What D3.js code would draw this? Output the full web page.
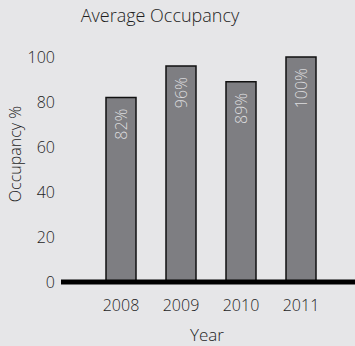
<!DOCTYPE html>
<html>
<head>
<meta charset="utf-8">
<script src="https://cdn.jsdelivr.net/npm/d3@7"></script>
<style>
  html, body { margin: 0; padding: 0; background: #e6e6e8; }
  svg { display: block; font-family: "Open Sans", sans-serif; }
</style>
</head>
<body>
<div id="chart"></div>
<script>
// chart data
var years = ["2008", "2009", "2010", "2011"];
var occupancy = [82, 96, 89, 100];
var yTicks = [0, 20, 40, 60, 80, 100];

var W = 355, H = 346;
var textColor = "#1e1e1e";

var svg = d3.select("#chart").append("svg")
  .attr("width", W)
  .attr("height", H);

svg.append("rect")
  .attr("width", W).attr("height", H)
  .attr("fill", "#e6e6e8");

//scales
var x = d3.scaleBand()
  .domain(years)
  .range([76, 346])
  .padding(0.5);

var y = d3.scaleLinear()
  .domain([0, 100])
  .range([282, 57]);

//title
svg.append("text")
  .attr("x", 160)
  .attr("y", 22)
  .attr("text-anchor", "middle")
  .attr("font-size", 18)
  .attr("font-weight", 300)
  .attr("fill", textColor)
  .text("Average Occupancy");

//y axis (labels only)
var yAxis = svg.append("g")
  .attr("transform", "translate(61,0)")
  .call(d3.axisLeft(y).tickValues(yTicks).tickSize(0).tickPadding(6));
yAxis.select(".domain").remove();
yAxis.selectAll("text")
  .attr("font-size", 16)
  .attr("font-family", "'Open Sans', sans-serif")
  .attr("font-weight", 300)
  .attr("fill", textColor);

//x axis (labels only)
var xAxis = svg.append("g")
  .attr("transform", "translate(0,282)")
  .call(d3.axisBottom(x).tickSize(0).tickPadding(18));
xAxis.select(".domain").remove();
xAxis.selectAll("text")
  .attr("font-size", 16)
  .attr("font-family", "'Open Sans', sans-serif")
  .attr("font-weight", 300)
  .attr("fill", textColor);

//axis titles
svg.append("text")
  .attr("transform", "translate(21,154) rotate(-90)")
  .attr("text-anchor", "middle")
  .attr("font-size", 16)
  .attr("font-weight", 300)
  .attr("fill", textColor)
  .text("Occupancy %");

svg.append("text")
  .attr("x", 207)
  .attr("y", 341)
  .attr("text-anchor", "middle")
  .attr("font-size", 17)
  .attr("font-weight", 300)
  .attr("fill", textColor)
  .text("Year");

//bars
svg.append("g").attr("class", "bars")
  .selectAll("rect")
  .data(occupancy)
  .enter()
  .append("rect")
  .attr("x", function(d, i) { return x(years[i]); })
  .attr("y", function(d) { return y(d); })
  .attr("width", x.bandwidth())
  .attr("height", function(d) { return y(0) - y(d); })
  .attr("fill", "#7e7e82")
  .attr("stroke", "#111")
  .attr("stroke-width", 1.5);

//value labels inside the bars
svg.append("g").attr("class", "labels")
  .selectAll("text")
  .data(occupancy)
  .enter()
  .append("text")
  .attr("transform", function(d, i) {
    return "translate(" + (x(years[i]) + x.bandwidth() / 2) + "," + (y(d) + 11) + ") rotate(-90)";
  })
  .attr("text-anchor", "end")
  .attr("dy", "0.35em")
  .attr("font-size", 16)
  .attr("font-weight", 300)
  .attr("fill", "#dcdcde")
  .text(function(d) { return d + "%"; });

//zero line
svg.append("line")
  .attr("x1", 61)
  .attr("x2", W)
  .attr("y1", y(0))
  .attr("y2", y(0))
  .attr("stroke", "#000")
  .attr("stroke-width", 5);
</script>
</body>
</html>
